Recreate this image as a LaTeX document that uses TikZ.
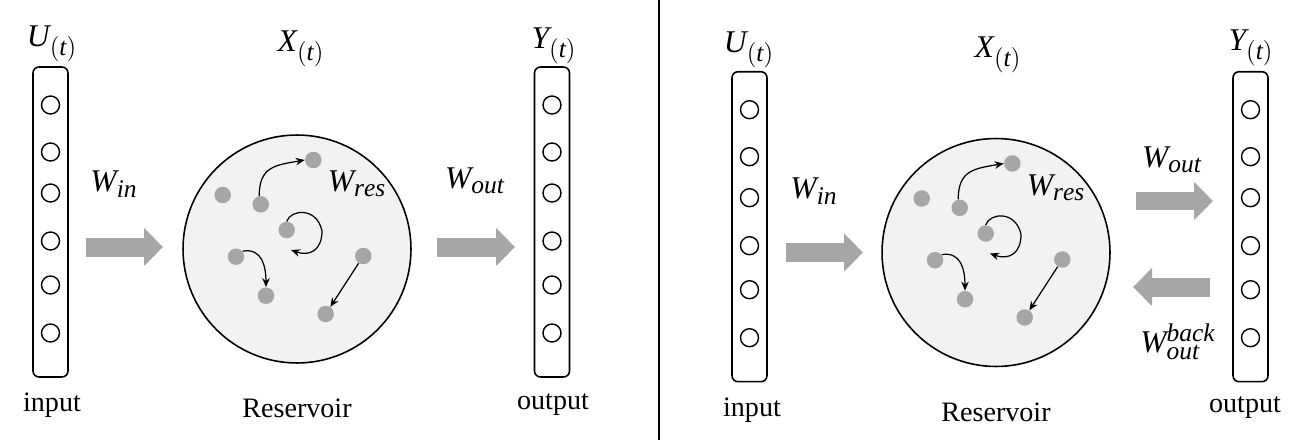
\documentclass[tikz,border=0pt]{standalone}
\usepackage{mathspec}
\setmainfont{Liberation Serif}
\setmathsfont(Digits,Latin){Liberation Serif}
\DeclareMathSizes{18}{18}{14.5}{11}
\usetikzlibrary{arrows.meta,positioning}
\definecolor{resfill}{HTML}{F2F2F2}
\definecolor{dotgray}{HTML}{A6A6A6}
\definecolor{fatgray}{HTML}{A6A6A6}
\tikzset{
  layer/.style={draw,rounded corners=0.12cm,line width=0.9pt,minimum width=0.7cm,minimum height=6.2cm,inner sep=0pt},
  cell/.style={draw,circle,line width=0.8pt,minimum size=0.36cm,inner sep=0pt},
  pool/.style={draw,circle,fill=resfill,line width=0.9pt,minimum size=4.56cm,inner sep=0pt},
  dot/.style={circle,fill=dotgray,minimum size=0.33cm,inner sep=0pt},
  link/.style={-{Stealth[length=1.8mm,width=1.5mm]},line width=0.7pt},
  fat/.style={fatgray,line width=0.38cm,-{Triangle[length=0.38cm,width=0.74cm]}},
  sym/.style={font=\fontsize{18}{21}\selectfont,inner sep=1pt},
}

\begin{document}
\begin{tikzpicture}[x=0.02cm,y=0.02cm,font=\fontsize{16}{19}\selectfont]
\useasboundingbox (0,0) rectangle (1300,440);
% divider between the two panels
\coordinate (divtop) at (659,440);
\coordinate (divbot) at (659,0);
\draw[line width=1.1pt] (divtop) -- (divbot);

% input / output columns
\foreach \c/\cx/\cy in {Lin/50.5/218,Lout/552/218,Rin/749.5/213.3,Rout/1250.5/213.3}{
  \node[layer] (\c) at (\cx,\cy) {};
  \foreach \k/\dy in {1/117,2/70,3/29,4/-19,5/-63,6/-111}
    \node[cell] (\c\k) at (\cx,\cy+\dy) {};
}

% reservoirs
\foreach \p/\cx/\cy in {L/297/191,R/996/187.5}{
  \node[pool] (\p-res) at (\cx,\cy) {};
  \begin{scope}[shift={(\cx,\cy)}]
    \foreach \n/\dx/\dy in {1/-74.3/54,2/-36.3/44.7,3/16.3/89,4/-10.3/19,5/-61/-7.7,6/-31/-46.7,7/66.3/-7,8/28.7/-65}
      \node[dot] (\p-d\n) at (\dx,\dy) {};
    \coordinate (\p-loopend) at (-6,-1);
    \node[sym] (\p-wres) at (60,65) {$W_{res}$};
    \draw[link] (\p-d2.100) to[out=90,in=190,looseness=1.3] (\p-d3.west);
    \draw[link] (\p-d4.north) .. controls (-6,40) and (20,42) .. (25,18)
      .. controls (25,0) and (14,-8) .. (\p-loopend);
    \draw[link] (\p-d5.40) to[out=10,in=90,looseness=1.2] (\p-d6.north);
    \draw[link] (\p-d7) -- (\p-d8);
  \end{scope}
}

% labels, left panel
\node[sym] (Lulab) at (52,396) {$U_{(t)}$};
\node (Linlab) at (52,35) {input};
\node[sym] (Lxlab) at (301,391) {$X_{(t)}$};
\node (Lreslab) at (297,32) {Reservoir};
\node[sym] (Lylab) at (554,394) {$Y_{(t)}$};
\node (Loutlab) at (553,35) {output};
\node[sym] (Lwin) at (114,256) {$W_{in}$};
\node[sym] (Lwout) at (475,259) {$W_{out}$};

% labels, right panel
\node[sym] (Rulab) at (749,390) {$U_{(t)}$};
\node (Rinlab) at (752,30) {input};
\node[sym] (Rxlab) at (998,385) {$X_{(t)}$};
\node (Rreslab) at (996,28) {Reservoir};
\node[sym] (Rylab) at (1251,392) {$Y_{(t)}$};
\node (Routlab) at (1245,32) {output};
\node[sym] (Rwin) at (814,249) {$W_{in}$};
\node[sym] (Rwout) at (1172,280) {$W_{out}$};
\node[sym] (Rwback) at (1178,98) {$W_{out}^{back}$};

% fat arrows
\coordinate (La1) at (86,193);   \coordinate (Lb1) at (163,193);
\coordinate (La2) at (437,193);  \coordinate (Lb2) at (515,193);
\coordinate (Ra1) at (786,187.5); \coordinate (Rb1) at (863,187.5);
\coordinate (Ra2) at (1136,239); \coordinate (Rb2) at (1213,239);
\coordinate (Ra3) at (1210,153); \coordinate (Rb3) at (1133,153);
\draw[fat] (La1) -- (Lb1);
\draw[fat] (La2) -- (Lb2);
\draw[fat] (Ra1) -- (Rb1);
\draw[fat] (Ra2) -- (Rb2);
\draw[fat] (Ra3) -- (Rb3);
\end{tikzpicture}
\end{document}
